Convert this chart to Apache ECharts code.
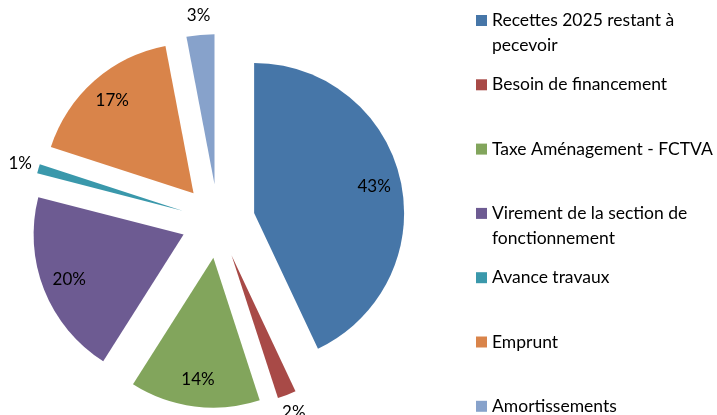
<!DOCTYPE html>
<html>
<head>
<meta charset="utf-8">
<script src="https://cdn.jsdelivr.net/npm/echarts@6/dist/echarts.min.js"></script>
<style>
  html, body { margin: 0; padding: 0; background: #fff; }
  #chart { width: 717px; height: 415px; }
</style>
</head>
<body>
<div id="chart"></div>
<script>
  // données
  var names = ['Recettes 2025 restant à pecevoir', 'Besoin de financement', 'Taxe Aménagement - FCTVA',
    'Virement de la section de fonctionnement', 'Avance travaux', 'Emprunt', 'Amortissements'];
  var values = [43, 2, 14, 20, 1, 17, 3];
  var colors = ['#4676A8', '#A84A47', '#82A55C', '#6D5B92', '#3A98AB', '#D9844A', '#87A2CB'];
  // libellés de légende (retours à la ligne)
  var legendLabels = ['Recettes 2025 restant à\npecevoir', 'Besoin de financement', 'Taxe Aménagement - FCTVA',
    'Virement de la section de\nfonctionnement', 'Avance travaux', 'Emprunt', 'Amortissements'];

  var center = [218, 221];
  var offset = 37;

  function makeData(withColor) {
    return names.map(function (n, i) {
      var d = { name: n, value: values[i], selected: true };
      if (withColor) d.itemStyle = { color: colors[i] };
      return d;
    });
  }

  var labelStyle = { color: '#000', fontFamily: 'Lato', fontSize: 17 };

  var myChart = echarts.init(document.getElementById('chart'));
  myChart.setOption({
    animation: false,
    legend: {
      orient: 'vertical',
      left: 476,
      top: -17,
      height: 700,
      padding: 0,
      itemGap: -10.7,
      itemWidth: 11,
      itemHeight: 11,
      icon: 'rect',
      data: names,
      formatter: function (name) {
        var t = legendLabels[names.indexOf(name)];
        return '\n' + t + (t.indexOf('\n') < 0 ? '\n' : '');
      },
      textStyle: { color: '#000', fontFamily: 'Lato', fontSize: 17.5, lineHeight: 25 }
    },
    series: [
      {
        // secteurs
        type: 'pie',
        center: center,
        radius: 150,
        selectedMode: 'multiple',
        selectedOffset: offset,
        silent: true,
        label: { show: false },
        labelLine: { show: false },
        itemStyle: { borderWidth: 0 },
        select: { itemStyle: { borderWidth: 0 } },
        emphasis: { disabled: true },
        data: makeData(true)
      },
      {
        // étiquettes intérieures
        type: 'pie',
        center: center,
        radius: [90, 150],
        selectedMode: 'multiple',
        selectedOffset: offset,
        silent: true,
        itemStyle: { color: 'rgba(0,0,0,0)', borderWidth: 0 },
        select: { itemStyle: { color: 'rgba(0,0,0,0)', borderWidth: 0 } },
        emphasis: { disabled: true },
        labelLine: { show: false },
        label: Object.assign({
          position: 'inside',
          formatter: function (p) { return p.value >= 5 ? p.value + '%' : ''; }
        }, labelStyle),
        data: makeData(false)
      },
      {
        // étiquettes extérieures (petits secteurs)
        type: 'pie',
        center: center,
        radius: [150, 182],
        selectedMode: 'multiple',
        selectedOffset: offset,
        silent: true,
        itemStyle: { color: 'rgba(0,0,0,0)', borderWidth: 0 },
        select: { itemStyle: { color: 'rgba(0,0,0,0)', borderWidth: 0 } },
        emphasis: { disabled: true },
        labelLine: { show: false },
        label: Object.assign({
          position: 'inside',
          formatter: function (p) { return p.value < 5 ? p.value + '%' : ''; }
        }, labelStyle),
        data: makeData(false)
      }
    ]
  });
</script>
</body>
</html>
